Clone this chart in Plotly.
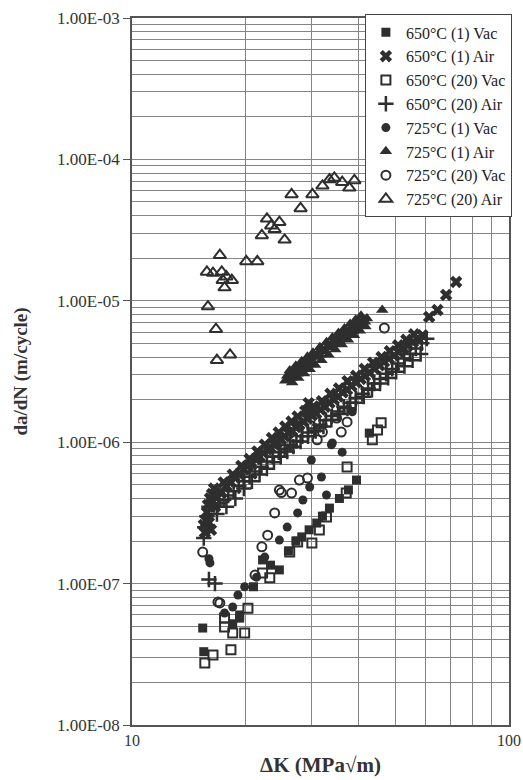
import plotly.graph_objects as go

# ---------------- data ----------------
# 650°C (1) Vac  - filled squares
dk_650_1_vac = [15.4, 15.5, 18.5, 19.3, 19.3, 21.0, 22.2, 23.3, 24.6, 26.0, 27.2, 28.2, 29.5,
                30.9, 32.0, 33.4, 35.5, 37.5, 39.4, 42.6]
da_650_1_vac = [4.85e-8, 3.3e-8, 5.2e-8, 5.7e-8, 6.0e-8, 9.5e-8, 1.47e-7, 1.35e-7, 1.25e-7, 1.7e-7,
                2.0e-7, 2.14e-7, 2.4e-7, 2.68e-7, 3.0e-7, 3.42e-7, 4.0e-7, 4.6e-7, 5.4e-7, 1.16e-6]

# 650°C (1) Air  - X
dk_650_1_air = [15.5, 15.6, 15.7, 15.8, 15.9, 16.1, 16.3, 16.2, 16.6, 16.0,
                16.8, 17.3, 17.8, 18.3, 18.8, 19.3, 19.8,
                20.3, 20.8, 21.3, 21.8, 22.3, 22.8, 23.3, 23.8, 24.3, 24.8, 25.4, 26.0, 26.6, 27.2,
                27.8, 28.5, 29.2, 29.4, 30.0, 30.8, 31.6, 32.5, 33.4, 34.3, 35.2, 36.2, 37.2, 38.2,
                39.3, 40.4, 41.5, 42.7, 44.0, 45.3, 46.6, 48.0, 49.5, 51.0, 52.5, 54.0, 55.6, 57.2,
                59.0, 61.4, 64.6, 68.1, 72.4,
                16.5, 17.5, 18.5, 19.5, 20.5, 21.5, 22.5, 23.5, 24.5, 25.5, 26.5, 27.5, 28.8, 30.3,
                31.9, 33.6, 35.4, 37.3, 39.3, 41.4, 43.6, 45.9, 48.3, 50.8, 53.4, 56.0]
da_650_1_air = [2.6e-7, 2.3e-7, 2.8e-7, 3.2e-7, 3.6e-7, 4.0e-7, 4.3e-7, 2.4e-7, 3.5e-7, 2.7e-7,
                4.1e-7, 4.4e-7, 4.9e-7,
                5.2e-7, 5.6e-7, 5.9e-7, 6.4e-7, 6.8e-7, 7.0e-7, 7.6e-7, 7.9e-7, 8.4e-7, 8.9e-7,
                9.1e-7, 9.7e-7, 1.0e-6, 1.05e-6, 1.1e-6, 1.16e-6, 1.2e-6, 1.28e-6, 1.33e-6, 1.4e-6,
                1.47e-6, 1.89e-6, 1.55e-6, 1.6e-6, 1.7e-6, 1.78e-6, 1.9e-6, 2.0e-6, 2.1e-6, 2.25e-6,
                2.35e-6, 2.5e-6, 2.65e-6, 2.8e-6, 2.95e-6, 3.1e-6, 3.3e-6, 3.5e-6, 3.7e-6, 3.9e-6,
                4.1e-6, 4.35e-6, 4.6e-6, 4.85e-6, 5.1e-6, 5.4e-6, 5.7e-6, 7.7e-6, 8.6e-6, 1.1e-5,
                1.36e-5,
                4.7e-7, 5.2e-7, 5.9e-7, 6.8e-7, 7.6e-7, 8.6e-7, 9.6e-7, 1.07e-6, 1.17e-6, 1.29e-6,
                1.4e-6, 1.52e-6, 1.66e-6, 1.79e-6, 1.95e-6, 2.2e-6, 2.4e-6, 2.7e-6, 2.95e-6, 3.3e-6,
                3.65e-6, 4.0e-6, 4.4e-6, 4.85e-6, 5.3e-6, 5.8e-6]

# 650°C (20) Vac - open squares
dk_650_20_vac = [15.6, 16.4, 17.6, 17.6, 18.3, 18.5, 19.9, 20.3, 22.2, 23.2, 26.2, 27.5, 30.0,
                 31.4, 32.8, 37.0, 37.2, 43.4, 44.8, 45.8]
da_650_20_vac = [2.75e-8, 3.13e-8, 5.7e-8, 4.93e-8, 3.4e-8, 4.48e-8, 4.48e-8, 6.7e-8, 1.19e-7, 1.1e-7,
                 1.67e-7, 1.97e-7, 1.94e-7, 2.39e-7, 2.96e-7, 4.37e-7, 6.68e-7, 1.04e-6, 1.22e-6,
                 1.37e-6]

# 650°C (20) Air - +
dk_650_20_air = [15.5, 15.6, 15.8, 16.0, 16.0, 16.6, 16.5, 17.0, 17.5, 18.0, 18.6, 19.2, 19.8, 20.5,
                 21.2, 22.0, 22.8, 23.6, 24.5, 25.4, 26.3, 27.3, 28.3, 29.3, 30.4, 31.5, 32.7, 33.9,
                 35.2, 36.5, 37.9, 39.3, 40.8, 42.3, 43.9, 45.5, 47.2, 49.0, 50.8, 52.7, 54.6, 56.6,
                 58.7, 60.5,
                 16.8, 17.8, 18.8, 19.8, 20.8, 21.8, 22.8, 23.8, 24.8, 25.8, 26.8, 28.0, 29.3, 30.7,
                 32.2, 33.8, 35.5, 37.3, 39.2, 41.2, 43.3, 45.5, 47.8, 50.2, 52.8, 55.5, 58.3]
da_650_20_air = [2.1e-7, 2.5e-7, 3.0e-7, 3.5e-7, 1.07e-7, 1.0e-7, 3.6e-7, 3.7e-7, 3.9e-7, 4.2e-7,
                 4.5e-7, 4.9e-7, 5.3e-7, 5.7e-7, 6.2e-7, 6.7e-7, 7.3e-7, 7.9e-7, 8.5e-7, 9.0e-7,
                 9.6e-7, 1.02e-6, 1.1e-6, 1.17e-6, 1.25e-6, 1.33e-6, 1.43e-6, 1.53e-6, 1.65e-6,
                 1.78e-6, 1.9e-6, 2.05e-6, 2.2e-6, 2.4e-6, 2.6e-6, 2.8e-6, 3.05e-6, 3.3e-6, 3.6e-6,
                 3.9e-6, 4.2e-6, 4.6e-6, 5.0e-6, 5.4e-6,
                 3.1e-7, 3.5e-7, 4.0e-7, 4.7e-7, 5.3e-7, 5.9e-7, 6.5e-7, 7.2e-7, 7.9e-7, 8.6e-7,
                 9.3e-7, 1.01e-6, 1.1e-6, 1.2e-6, 1.29e-6, 1.44e-6, 1.58e-6, 1.74e-6, 1.9e-6, 2.1e-6,
                 2.35e-6, 2.6e-6, 2.85e-6, 3.15e-6, 3.45e-6, 3.8e-6, 4.2e-6]

# 725°C (1) Vac - filled circles
dk_725_1_vac = [16.1, 16.0, 17.6, 18.5, 19.1, 19.9, 21.4, 22.5, 24.6, 25.8, 27.5, 28.4, 29.6, 29.9,
                31.8, 32.8, 33.8, 34.0, 36.1, 38.4]
da_725_1_vac = [1.4e-7, 1.5e-7, 6.2e-8, 6.83e-8, 8.3e-8, 9.5e-8, 1.11e-7, 1.54e-7, 2.03e-7, 2.51e-7,
                3.16e-7, 3.9e-7, 4.82e-7, 7.48e-7, 5.67e-7, 4.23e-7, 9.6e-7, 9.87e-7, 8.5e-7, 1.64e-6]

# 725°C (1) Air - filled triangles
dk_725_1_air = [25.5, 25.8, 26.0, 26.3, 26.5, 26.8, 27.0, 27.3, 27.5, 27.8, 28.0, 28.3, 28.5, 28.8,
                29.0, 29.3, 29.5, 29.8, 30.0, 30.5, 31.0, 31.5, 32.0, 32.5, 33.0, 33.5, 34.0, 34.5,
                35.0, 35.5, 36.0, 36.5, 37.0, 37.5, 38.0, 38.5, 39.0, 39.5, 40.0, 40.5, 41.0, 41.5,
                42.0, 46.1,
                26.2, 27.2, 28.2, 29.2, 30.2, 31.5, 32.8, 34.0, 35.3, 36.6, 37.9, 39.2, 40.5,
                26.6, 27.6, 28.6, 29.6, 30.6, 31.8, 33.2, 34.6, 36.0, 37.4, 38.8, 40.2, 41.6]
da_725_1_air = [2.72e-6, 2.95e-6, 2.75e-6, 3.0e-6, 2.85e-6, 3.15e-6, 2.95e-6, 3.3e-6, 3.05e-6,
                3.4e-6, 3.2e-6, 3.5e-6, 3.3e-6, 3.7e-6, 3.45e-6, 3.8e-6, 3.55e-6, 3.95e-6, 3.7e-6,
                4.0e-6, 4.2e-6, 4.15e-6, 4.5e-6, 4.4e-6, 4.75e-6, 4.7e-6, 5.05e-6, 4.95e-6, 5.4e-6,
                5.2e-6, 5.7e-6, 5.5e-6, 6.0e-6, 5.8e-6, 6.35e-6, 6.1e-6, 6.7e-6, 6.4e-6, 7.0e-6,
                6.8e-6, 7.3e-6, 7.1e-6, 7.5e-6, 8.6e-6,
                3.22e-6, 3.47e-6, 3.74e-6, 4.02e-6, 4.3e-6, 4.69e-6, 5.1e-6, 5.49e-6, 5.93e-6,
                6.38e-6, 6.86e-6, 7.34e-6, 7.85e-6,
                2.64e-6, 2.84e-6, 3.06e-6, 3.28e-6, 3.51e-6, 3.8e-6, 4.16e-6, 4.52e-6, 4.9e-6,
                5.3e-6, 5.71e-6, 6.15e-6, 6.59e-6]

# 725°C (20) Vac - open circles
dk_725_20_vac = [15.4, 16.9, 17.1, 21.2, 22.1, 22.9, 23.9, 24.6, 24.9, 26.5, 27.8, 29.2, 31.0, 32.0,
                 34.9, 35.9, 37.2, 46.7]
da_725_20_vac = [1.67e-7, 7.4e-8, 7.3e-8, 1.15e-7, 1.82e-7, 2.2e-7, 3.16e-7, 4.59e-7, 4.4e-7, 4.37e-7,
                 5.4e-7, 5.58e-7, 1.04e-6, 1.18e-6, 1.48e-6, 1.18e-6, 1.39e-6, 6.42e-6]

# 725°C (20) Air - open triangles
dk_725_20_air = [15.8, 16.4, 17.1, 17.3, 17.4, 17.8, 18.4, 17.6, 15.9, 16.7, 16.8, 18.2, 20.1, 21.5,
                 22.1, 22.8, 23.4, 23.9, 24.6, 25.4, 26.5, 28.0, 30.1, 32.0, 33.4, 34.4, 36.1, 37.7,
                 38.9]
da_725_20_air = [1.6e-5, 1.57e-5, 2.1e-5, 1.6e-5, 1.4e-5, 1.48e-5, 1.4e-5, 1.24e-5, 9.1e-6, 6.3e-6,
                 3.8e-6, 4.15e-6, 1.9e-5, 1.9e-5, 2.9e-5, 3.8e-5, 3.4e-5, 3.2e-5, 3.6e-5, 2.7e-5,
                 5.65e-5, 4.5e-5, 5.65e-5, 6.5e-5, 7.2e-5, 7.4e-5, 6.9e-5, 6.3e-5, 7.1e-5]

x_major = [10, 100]
x_minor = [20, 30, 40, 50, 60, 70, 80, 90]
y_major = [1e-8, 1e-7, 1e-6, 1e-5, 1e-4, 1e-3]
y_major_text = ["1.00E-08", "1.00E-07", "1.00E-06", "1.00E-05", "1.00E-04", "1.00E-03"]
y_minor = [m * d for d in [1e-8, 1e-7, 1e-6, 1e-5, 1e-4] for m in range(2, 10)]

# ---------------- figure ----------------
INK = "#2e2e2e"
SERIF = "Liberation Serif, Times New Roman, serif"
GRID = "#858585"

series = [
    ("650°C (1) Vac", dk_650_1_vac, da_650_1_vac, "square", 9, 0),
    ("650°C (1) Air", dk_650_1_air, da_650_1_air, "x", 11, 0),
    ("650°C (20) Vac", dk_650_20_vac, da_650_20_vac, "square-open", 9, 2),
    ("650°C (20) Air", dk_650_20_air, da_650_20_air, "cross-thin", 11, 2.5),
    ("725°C (1) Vac", dk_725_1_vac, da_725_1_vac, "circle", 9, 0),
    ("725°C (1) Air", dk_725_1_air, da_725_1_air, "triangle-up", 11, 0),
    ("725°C (20) Vac", dk_725_20_vac, da_725_20_vac, "circle-open", 9, 2),
    ("725°C (20) Air", dk_725_20_air, da_725_20_air, "triangle-up-open", 11, 2),
]

fig = go.Figure()
for name, xs, ys, sym, size, lw in series:
    fig.add_trace(go.Scatter(
        x=xs, y=ys, mode="markers", name=name,
        marker=dict(symbol=sym, size=size, color=INK,
                    line=dict(width=lw, color=INK)),
    ))

fig.update_layout(
    width=523, height=780,
    margin=dict(l=132, r=13, t=18, b=55),
    paper_bgcolor="white", plot_bgcolor="white",
    font=dict(family=SERIF, size=16, color="#333"),
    showlegend=True,
    legend=dict(
        x=1.005, xanchor="right", y=1.005, yanchor="top",
        bgcolor="white", bordercolor="#444", borderwidth=1,
        font=dict(family=SERIF, size=16, color="#222"),
        itemsizing="trace", tracegroupgap=0,
    ),
)

fig.update_xaxes(
    type="log", range=[1, 2], automargin=False,
    tickmode="array", tickvals=x_major, ticktext=["10", "100"],
    ticks="", showgrid=True, gridcolor=GRID, gridwidth=1,
    minor=dict(tickmode="array", tickvals=x_minor, showgrid=True,
               gridcolor=GRID, gridwidth=1, ticks=""),
    showline=True, linecolor="#555", linewidth=1.5, mirror=True,
    zeroline=False,
    tickfont=dict(family=SERIF, size=16, color="#333"),
    title=dict(text="<b>ΔK (MPa√m)</b>", font=dict(family=SERIF, size=21, color="#333"),
               standoff=9),
)

fig.update_yaxes(
    type="log", range=[-8, -3], automargin=False,
    tickmode="array", tickvals=y_major, ticktext=y_major_text,
    ticks="outside", ticklen=7, tickcolor="#555", tickwidth=1,
    showgrid=True, gridcolor=GRID, gridwidth=1,
    minor=dict(tickmode="array", tickvals=y_minor, showgrid=True,
               gridcolor=GRID, gridwidth=1, ticks=""),
    showline=True, linecolor="#555", linewidth=1.5, mirror=True,
    zeroline=False,
    tickfont=dict(family=SERIF, size=17, color="#333"),
    title=dict(text="<b>da/dN (m/cycle)</b>", font=dict(family=SERIF, size=19, color="#333"),
               standoff=24),
)

# remove the page's default body margin so the 523x780 figure fills the window exactly
fig.write_html(
    "out.html",
    config={"displayModeBar": False},
    post_script="document.body.style.margin='0';document.body.style.overflow='hidden';",
)
